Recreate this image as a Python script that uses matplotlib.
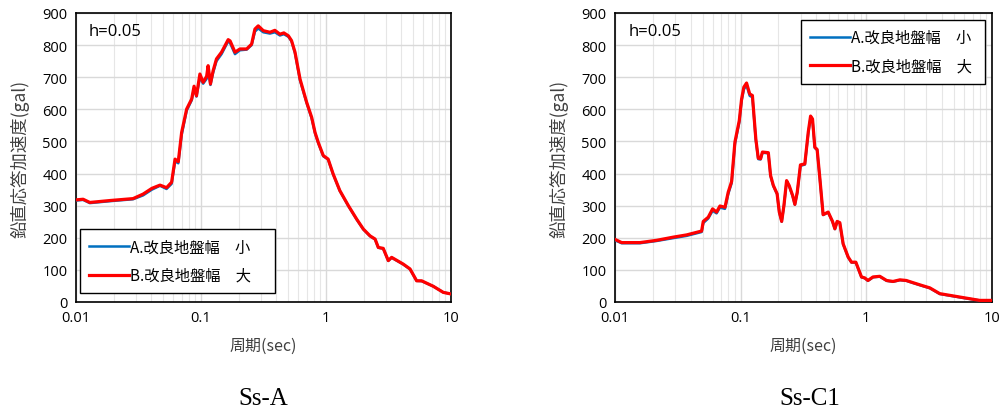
import numpy as np
import matplotlib
matplotlib.use('Agg')
import matplotlib.pyplot as plt
from matplotlib.ticker import FixedLocator, NullFormatter, LogLocator

plt.rcParams['font.family'] = ['Noto Sans CJK JP', 'DejaVu Sans']

# Ss-A  周期(sec) / 鉛直応答加速度(gal)
a_T = [0.01, 0.0114, 0.0129, 0.0187, 0.0286, 0.0344, 0.0405, 0.047, 0.053, 0.0582,
       0.062, 0.0658, 0.070, 0.0768, 0.0842, 0.088, 0.092, 0.098, 0.104, 0.111,
       0.114, 0.119, 0.125, 0.133, 0.146, 0.165, 0.171, 0.187, 0.205, 0.232,
       0.254, 0.270, 0.287, 0.315, 0.356, 0.39, 0.428, 0.46, 0.50, 0.53,
       0.565, 0.62, 0.70, 0.768, 0.817, 0.867, 0.951, 1.04, 1.14, 1.29,
       1.51, 1.76, 1.99, 2.25, 2.47, 2.62, 2.87, 3.15, 3.35, 4.15,
       4.70, 5.31, 5.82, 7.21, 8.67, 10.0]
a_red = [318, 320, 310, 316, 322, 336, 354, 364, 356, 373,
         445, 437, 528, 601, 632, 672, 642, 710, 684, 703,
         736, 679, 720, 757, 778, 817, 813, 778, 788, 788,
         803, 850, 860, 845, 840, 846, 834, 838, 829, 814,
         778, 694, 622, 575, 528, 497, 456, 445, 399, 347,
         300, 258, 227, 206, 196, 170, 167, 129, 139, 118,
         103, 66, 66, 49, 30, 25]
a_blue = [316, 318, 308, 314, 320, 332, 350, 362, 352, 368,
          438, 432, 520, 596, 628, 665, 640, 700, 680, 695,
          728, 676, 714, 750, 772, 812, 806, 772, 784, 786,
          800, 842, 852, 840, 836, 840, 830, 834, 826, 812,
          775, 690, 620, 572, 526, 495, 454, 444, 398, 346,
          299, 257, 226, 205, 195, 169, 166, 128, 138, 117,
          102, 66, 65, 49, 30, 25]

# Ss-C1
c_T = [0.01, 0.0113, 0.0158, 0.0214, 0.0291, 0.0372, 0.0489, 0.0504, 0.0552, 0.0598,
       0.0643, 0.0684, 0.075, 0.0796, 0.0847, 0.090, 0.0975, 0.1017, 0.106, 0.1114,
       0.118, 0.124, 0.132, 0.138, 0.144, 0.149, 0.166, 0.173, 0.182, 0.195,
       0.203, 0.212, 0.221, 0.232, 0.243, 0.259, 0.270, 0.282, 0.299, 0.324,
       0.345, 0.360, 0.373, 0.389, 0.406, 0.427, 0.453, 0.497, 0.538, 0.562,
       0.586, 0.615, 0.654, 0.717, 0.762, 0.825, 0.915, 0.972, 1.03, 1.13,
       1.28, 1.45, 1.63, 1.85, 2.08, 2.36, 2.74, 3.20, 3.84, 4.90,
       6.25, 7.98, 10.0]
c_red = [195, 185, 185, 192, 202, 209, 221, 251, 264, 290,
         280, 299, 295, 342, 375, 498, 565, 632, 669, 682,
         648, 643, 508, 448, 446, 467, 465, 394, 363, 337,
         280, 251, 301, 378, 363, 332, 304, 342, 427, 430,
         529, 579, 570, 482, 475, 384, 272, 280, 251, 228,
         251, 247, 181, 140, 124, 124, 78, 75, 67, 78,
         80, 67, 64, 69, 67, 60, 52, 44, 26, 19,
         12, 5, 5]
c_blue = [192, 183, 183, 190, 199, 206, 218, 246, 260, 284,
          276, 294, 290, 336, 370, 492, 560, 626, 662, 675,
          642, 638, 504, 445, 444, 465, 463, 392, 361, 336,
          279, 250, 299, 375, 361, 330, 303, 340, 424, 428,
          525, 574, 566, 480, 473, 382, 271, 279, 250, 227,
          250, 246, 180, 139, 123, 123, 77, 74, 66, 77,
          79, 66, 63, 68, 66, 59, 51, 43, 25, 18,
          11, 5, 5]

y_ticks = [0, 100, 200, 300, 400, 500, 600, 700, 800, 900]
x_ticks = [0.01, 0.1, 1, 10]
x_ticklabels = ['0.01', '0.1', '1', '10']
labels = ['A.改良地盤幅\u3000小', 'B.改良地盤幅\u3000大']
captions = ['Ss-A', 'Ss-C1']

fig = plt.figure(figsize=(10.05, 4.14), dpi=100)
ax1 = fig.add_axes([76/1005, 1-303/414, 375/1005, 289/414])
ax2 = fig.add_axes([615/1005, 1-303/414, 377/1005, 289/414])

panels = [(ax1, a_T, a_blue, a_red, 'lower left', (0.011, 0.031, 0.52, 0.0)),
          (ax2, c_T, c_blue, c_red, 'upper left', (0.493, 0.976, 0.488, 0.0))]
for ax, T, blue, red, loc, box in panels:
    ax.plot(T, blue, color='#0070c0', linewidth=1.8, label=labels[0], zorder=3)
    ax.plot(T, red, color='#ff0000', linewidth=2.3, label=labels[1], zorder=4)
    ax.set_xscale('log')
    ax.set_xlim(0.01, 10)
    ax.set_ylim(0, 900)
    ax.set_yticks(y_ticks)
    ax.xaxis.set_major_locator(FixedLocator(x_ticks))
    ax.set_xticklabels(x_ticklabels)
    ax.xaxis.set_minor_locator(LogLocator(base=10, subs=np.arange(2, 10)))
    ax.xaxis.set_minor_formatter(NullFormatter())
    ax.grid(True, which='major', color='#d9d9d9', linewidth=1.0)
    ax.grid(True, which='minor', axis='x', color='#e6e6e6', linewidth=0.8)
    ax.set_axisbelow(True)
    ax.tick_params(which='both', length=0, labelsize=10.5, colors='#000000', pad=6)
    for s in ax.spines.values():
        s.set_color('#000000')
        s.set_linewidth(1.2)
    ax.text(0.035, 0.925, 'h=0.05', transform=ax.transAxes, fontsize=12, family=['Open Sans', 'DejaVu Sans'])
    ax.set_xlabel('周期(sec)', fontsize=11.5, color='#404040', labelpad=8)
    ax.set_ylabel('鉛直応答加速度(gal)', fontsize=12.5, color='#404040', labelpad=9)
    leg = ax.legend(loc=loc, bbox_to_anchor=box, mode='expand', fontsize=11,
                    fancybox=False, framealpha=1, edgecolor='#000000',
                    handlelength=2.6, handletextpad=0.05, labelspacing=0.75, borderpad=0.6,
                    borderaxespad=0.0)
    leg.get_frame().set_linewidth(1.0)
    for lab in ax.get_xticklabels() + ax.get_yticklabels():
        lab.set_family(['Open Sans', 'DejaVu Sans'])

fig.text(263/1005, 1-399/414, captions[0], ha='center', va='center', fontsize=18, family='Liberation Serif')
fig.text(810/1005, 1-399/414, captions[1], ha='center', va='center', fontsize=18, family='Liberation Serif')

fig.savefig('out.png', dpi=100)
